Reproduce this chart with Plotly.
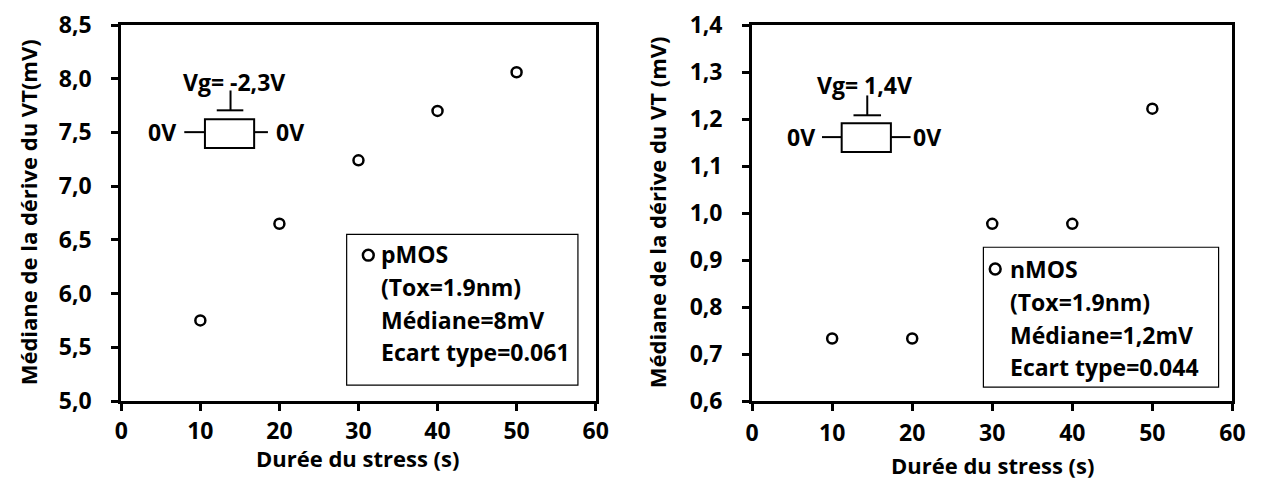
import plotly.graph_objects as go

# ---- data ----
stress_time = [10, 20, 30, 40, 50]
pmos_drift = [5.75, 6.65, 7.24, 7.70, 8.06]
nmos_drift = [0.733, 0.733, 0.977, 0.977, 1.222]

x_ticks = [0, 10, 20, 30, 40, 50, 60]
pmos_yticks = [5.0, 5.5, 6.0, 6.5, 7.0, 7.5, 8.0, 8.5]
nmos_yticks = [0.6, 0.7, 0.8, 0.9, 1.0, 1.1, 1.2, 1.3, 1.4]

pmos_legend = ["pMOS", "(Tox=1.9nm)", "Médiane=8mV", "Ecart type=0.061"]
nmos_legend = ["nMOS", "(Tox=1.9nm)", "Médiane=1,2mV", "Ecart type=0.044"]

x_title = "Durée du stress (s)"
pmos_ytitle = "Médiane de la dérive du VT(mV)"
nmos_ytitle = "Médiane de la dérive du VT (mV)"

# ---- layout geometry (page pixels; the page body has an 8px margin) ----
OFF = 8
W, H = 1269 - OFF, 480 - OFF
TOP_PX, BOT_PX = 22, 401          # plot area top / bottom in page pixels
T = TOP_PX - OFF
B = H - (BOT_PX - OFF)
PH = H - T - B
FONT = "Open Sans"
FS_TICK = 23
FS = 23


def px(xp):
    return (xp - OFF) / W


def py(yp):
    return (BOT_PX - yp) / PH


fig = go.Figure()

marker = dict(symbol="circle-open", size=10, color="black", line=dict(width=2.5, color="black"))
fig.add_trace(go.Scatter(x=stress_time, y=pmos_drift, mode="markers", marker=marker,
                         xaxis="x", yaxis="y", showlegend=False))
fig.add_trace(go.Scatter(x=stress_time, y=nmos_drift, mode="markers", marker=marker,
                         xaxis="x2", yaxis="y2", showlegend=False))

axis_common = dict(showline=True, linewidth=3, linecolor="black", mirror=True,
                   ticks="outside", ticklen=7, tickwidth=2.5, tickcolor="black",
                   showgrid=False, zeroline=False, ticklabeloverflow="allow",
                   tickfont=dict(family=FONT, size=FS_TICK, color="black", weight="bold"))

fig.update_layout(
    width=W, height=H,
    margin=dict(l=0, r=0, t=T, b=B),
    paper_bgcolor="white", plot_bgcolor="white",
    separators=", ",
    xaxis=dict(domain=[px(116), px(598)], range=[0, 60], tickvals=x_ticks, anchor="y",
               ticklabelstandoff=0, **axis_common),
    yaxis=dict(domain=[0, 1], range=[5, 8.5], tickvals=pmos_yticks, tickformat=".1f", anchor="x",
               ticklabelstandoff=15, **axis_common),
    xaxis2=dict(domain=[px(757), px(1245)], range=[0, 60], tickvals=x_ticks, anchor="y2",
                ticklabelstandoff=2, **axis_common),
    yaxis2=dict(domain=[0, 1], range=[0.6, 1.4], tickvals=nmos_yticks, tickformat=".1f", anchor="x2",
                ticklabelstandoff=15, **axis_common),
)

ann = []
shapes = []


def text(xp, yp, s, xanchor="center", angle=0, size=FS):
    ann.append(dict(x=px(xp), y=py(yp), xref="paper", yref="paper", text=s, showarrow=False,
                    xanchor=xanchor, yanchor="middle", textangle=angle,
                    font=dict(family=FONT, size=size, color="black", weight="bold")))


# axis titles
text(356, 458, x_title, size=22)
text(1001, 466, x_title, size=22)
text(21, 211, pmos_ytitle, angle=-90, size=22)
text(660, 211, nmos_ytitle, angle=-90, size=22)


def line(x0, y0, x1, y1, w=2):
    shapes.append(dict(type="line", xref="paper", yref="paper", x0=px(x0), y0=py(y0), x1=px(x1), y1=py(y1),
                       line=dict(color="black", width=w)))


def rect(x0, y0, x1, y1, w=2):
    shapes.append(dict(type="rect", xref="paper", yref="paper", x0=px(x0), y0=py(y0), x1=px(x1), y1=py(y1),
                       line=dict(color="black", width=w), fillcolor="rgba(0,0,0,0)"))


def circle(cx, cy, r=5.5):
    shapes.append(dict(type="circle", xref="paper", yref="paper", x0=px(cx - r), y0=py(cy - r),
                       x1=px(cx + r), y1=py(cy + r), line=dict(color="black", width=2.5)))


# circuit sketches
def circuit(label, tx, ty, vx, vtop, vbot, hx0, hx1, rx0, rx1, ry0, ry1, ly, lx0, rx2, l0x, r0x):
    text(tx, ty, label)
    line(vx, vtop, vx, vbot)
    line(hx0, vbot, hx1, vbot)
    rect(rx0, ry0, rx1, ry1)
    line(lx0, ly, rx0, ly)
    line(rx1, ly, rx2, ly)
    text(l0x, ly, "0V")
    text(r0x, ly, "0V")


circuit("Vg= -2,3V", 231, 79, 227, 88, 108, 213, 240, 201, 251, 117, 146, 130, 180, 265, 157, 287)
circuit("Vg= 1,4V", 871, 82, 874, 93, 113, 860, 888, 848, 898, 121, 150, 135, 828, 918, 807, 935)

# legend boxes
rect(345, 233, 580, 385, 1.2)
circle(367, 254)
for i, s in enumerate(pmos_legend):
    text(378, 253 + 33 * i, s, xanchor="left")

rect(992, 246, 1231, 387, 1.2)
circle(1004, 268)
for i, s in enumerate(nmos_legend):
    text(1017, 268 + 33 * i, s, xanchor="left")

fig.update_layout(annotations=ann, shapes=shapes)
fig.write_html("out.html")
